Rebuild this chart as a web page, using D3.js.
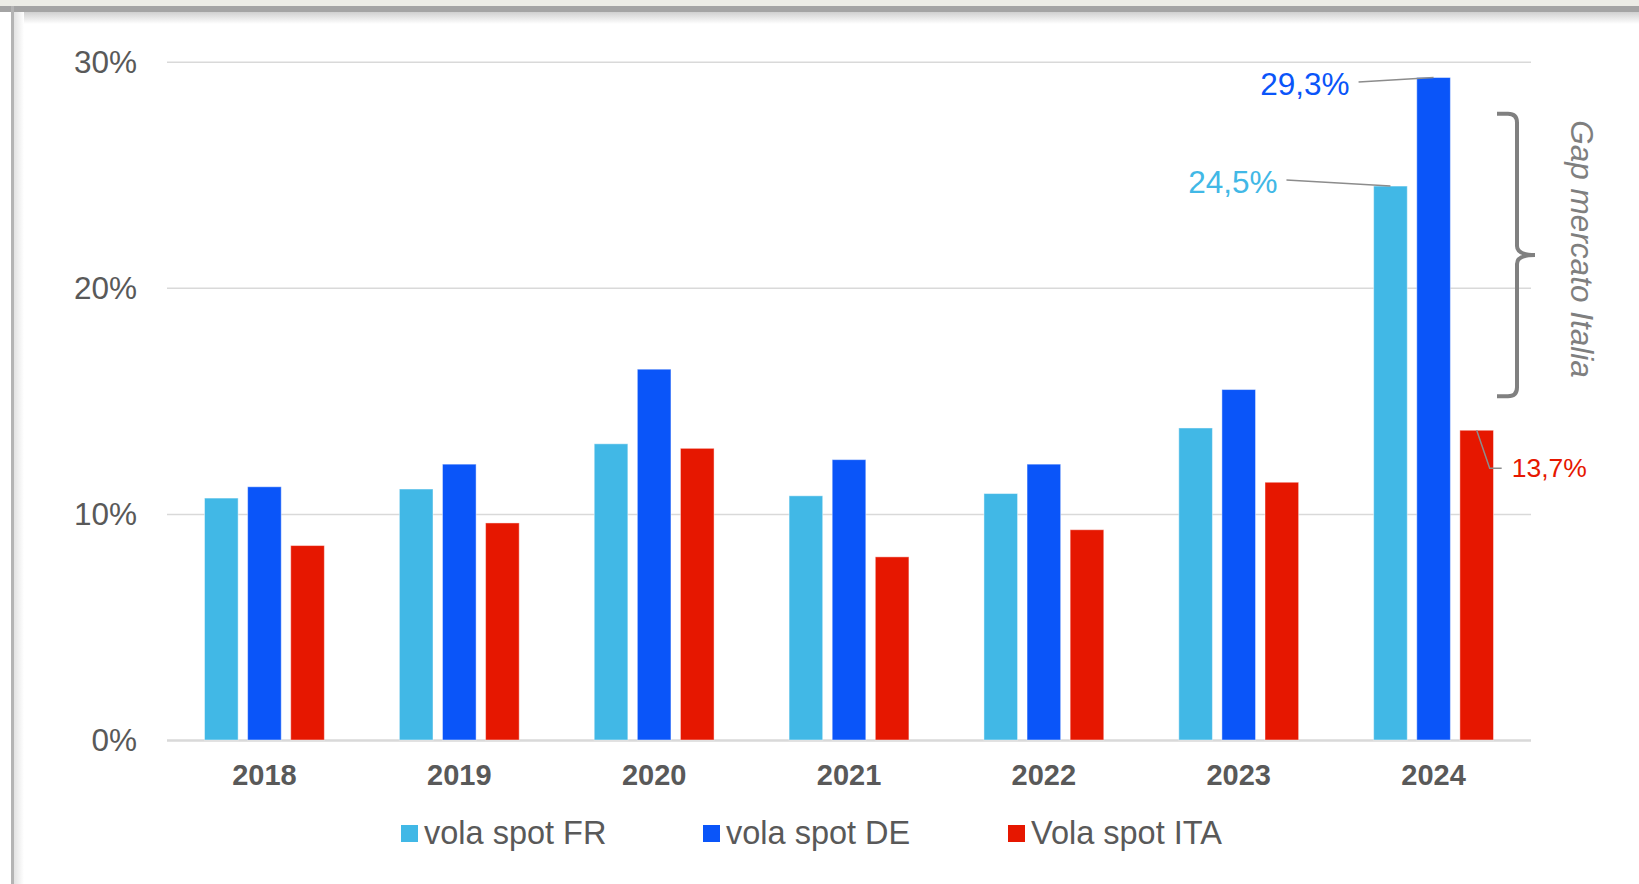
<!DOCTYPE html>
<html>
<head>
<meta charset="utf-8">
<script src="https://cdn.jsdelivr.net/npm/d3@7"></script>
<style>
  html, body { margin: 0; padding: 0; background: #fff; }
  svg { display: block; font-family: "Liberation Sans", Arial, sans-serif; }
</style>
</head>
<body>
<svg id="chart" width="1639" height="884"></svg>
<script>
var years = [ "2018", "2019", "2020", "2021", "2022", "2023", "2024" ];
var volaFR = [ 10.7, 11.1, 13.1, 10.8, 10.9, 13.8, 24.5 ];
var volaDE = [ 11.2, 12.2, 16.4, 12.4, 12.2, 15.5, 29.3 ];
var volaITA = [ 8.6, 9.6, 12.9, 8.1, 9.3, 11.4, 13.7 ];
var seriesNames = [ "vola spot FR", "vola spot DE", "Vola spot ITA" ];
var seriesColors = [ "#41b8e6", "#0a55f9", "#e61700" ];
var yTicks = [ 0, 10, 20, 30 ];
var gapRange = [ 15.2, 27.7 ];
var gapLabel = "Gap mercato Italia";

var svg = d3.select( "#chart" ),
    W = 1639, H = 884,
    pLeft = 167, pRight = 1531, pTop = 61.7, pBottom = 740,
    series = [ volaFR, volaDE, volaITA ];

var x0 = d3.scaleBand().domain( years ).range( [ pLeft, pRight ] ).paddingInner( 0.385 ).paddingOuter( 0.1925 );
var x1 = d3.scaleBand().domain( [ 0, 1, 2 ] ).range( [ 0, x0.bandwidth() ] ).paddingInner( 0.22 );
var y = d3.scaleLinear().domain( [ 0, 30 ] ).range( [ pBottom, pTop ] );

function fmt( v ) {
    return d3.format( ".1f" )( v ).replace( ".", "," ) + "%";
}

function drawFrame() {
    var defs = svg.append( "defs" );
    var g1 = defs.append( "linearGradient" ).attr( "id", "shTop" ).attr( "x1", 0 ).attr( "y1", 0 ).attr( "x2", 0 ).attr( "y2", 1 );
    g1.append( "stop" ).attr( "offset", 0 ).attr( "stop-color", "#d0d0d0" );
    g1.append( "stop" ).attr( "offset", 1 ).attr( "stop-color", "#ffffff" );
    var g2 = defs.append( "linearGradient" ).attr( "id", "shLeft" ).attr( "x1", 0 ).attr( "y1", 0 ).attr( "x2", 1 ).attr( "y2", 0 );
    g2.append( "stop" ).attr( "offset", 0 ).attr( "stop-color", "#e2e2e2" );
    g2.append( "stop" ).attr( "offset", 1 ).attr( "stop-color", "#ffffff" );

    svg.append( "rect" ).attr( "x", 0 ).attr( "y", 0 ).attr( "width", W ).attr( "height", H ).attr( "fill", "#fff" );
    svg.append( "rect" ).attr( "x", 0 ).attr( "y", 0 ).attr( "width", W ).attr( "height", 6 ).attr( "fill", "#ecece6" );
    svg.append( "rect" ).attr( "x", 14 ).attr( "y", 12 ).attr( "width", W ).attr( "height", 12 ).attr( "fill", "url(#shTop)" );
    svg.append( "rect" ).attr( "x", 14 ).attr( "y", 12 ).attr( "width", 10 ).attr( "height", H ).attr( "fill", "url(#shLeft)" );
    svg.append( "rect" ).attr( "x", 0 ).attr( "y", 6 ).attr( "width", W ).attr( "height", 6 ).attr( "fill", "#a4a4a4" );
    svg.append( "rect" ).attr( "x", 11 ).attr( "y", 6 ).attr( "width", 3 ).attr( "height", H ).attr( "fill", "#b4b4b4" );
}

function drawAxes() {
    var yAxis = svg.append( "g" )
        .attr( "transform", "translate(" + pLeft + ",0)" )
        .call( d3.axisLeft( y ).tickValues( yTicks ).tickSize( -( pRight - pLeft ) ).tickPadding( 30 ).tickFormat( function( d ) { return d + "%"; } ) );

    yAxis.select( ".domain" ).remove();
    yAxis.selectAll( "line" ).attr( "stroke", "#d9d9d9" ).attr( "stroke-width", function( d ) { return d === 0 ? 2.5 : 1.5; } );
    yAxis.selectAll( "text" ).attr( "fill", "#595959" ).style( "font-size", "31.5px" ).attr( "dy", "0.33em" );

    var xAxis = svg.append( "g" )
        .attr( "transform", "translate(0," + pBottom + ")" )
        .call( d3.axisBottom( x0 ).tickSize( 0 ).tickPadding( 0 ) );

    xAxis.select( ".domain" ).remove();
    xAxis.selectAll( "text" ).attr( "fill", "#595959" ).attr( "y", 45 ).attr( "dy", 0 )
        .style( "font-size", "29px" ).style( "font-weight", "bold" );
}

function drawBars() {
    var groups = svg.append( "g" ).selectAll( "g" )
        .data( years )
        .enter().append( "g" )
        .attr( "transform", function( d ) { return "translate(" + x0( d ) + ",0)"; } );

    groups.selectAll( "rect" )
        .data( function( d, i ) { return series.map( function( s, k ) { return { k: k, v: s[ i ] }; } ); } )
        .enter().append( "rect" )
        .attr( "x", function( d ) { return x1( d.k ); } )
        .attr( "width", x1.bandwidth() )
        .attr( "y", function( d ) { return y( d.v ); } )
        .attr( "height", function( d ) { return pBottom - y( d.v ); } )
        .attr( "fill", function( d ) { return seriesColors[ d.k ]; } )
        .attr( "stroke", "rgba(255,255,255,0.45)" )
        .attr( "stroke-width", 1 );
}

function drawLabels() {
    var last = years.length - 1, yr = years[ last ];

    function barCx( k ) { return x0( yr ) + x1( k ) + x1.bandwidth() / 2; }

    // FR and DE: label on the left with a leader line to the bar top
    [ 1, 0 ].forEach( function( k ) {
        var v = series[ k ][ last ], bx = barCx( k ), by = y( v ),
            tx = k === 1 ? bx - 84 : bx - 113, ty = k === 1 ? by + 17 : by + 6.5;

        svg.append( "path" )
            .attr( "d", "M" + ( tx + 9 ) + "," + ( ty - 12.5 ) + "L" + bx + "," + by )
            .attr( "stroke", "#8c8c8c" ).attr( "stroke-width", 1.5 ).attr( "fill", "none" );

        svg.append( "text" )
            .attr( "x", tx ).attr( "y", ty )
            .attr( "text-anchor", "end" )
            .attr( "fill", seriesColors[ k ] )
            .style( "font-size", "31.5px" )
            .text( fmt( v ) );
    });

    // ITA: label on the right
    var vI = volaITA[ last ], bxI = barCx( 2 ), byI = y( vI );

    svg.append( "path" )
        .attr( "d", "M" + bxI + "," + byI + "L" + ( bxI + 13 ) + "," + ( byI + 38 ) + "L" + ( bxI + 25 ) + "," + ( byI + 38 ) )
        .attr( "stroke", "#8c8c8c" ).attr( "stroke-width", 1.5 ).attr( "fill", "none" );

    svg.append( "text" )
        .attr( "x", bxI + 35 ).attr( "y", byI + 47 )
        .attr( "fill", seriesColors[ 2 ] )
        .style( "font-size", "26.5px" )
        .text( fmt( vI ) );
}

function drawGap() {
    var yt = y( gapRange[ 1 ] ), yb = y( gapRange[ 0 ] ), ym = ( yt + yb ) / 2,
        tip = pRight - 34, spine = pRight - 14, point = pRight + 4, r = 9;

    var d = "M" + tip + "," + yt +
        "L" + ( spine - r ) + "," + yt +
        "Q" + spine + "," + yt + " " + spine + "," + ( yt + r ) +
        "L" + spine + "," + ( ym - r ) +
        "Q" + spine + "," + ym + " " + point + "," + ym +
        "Q" + spine + "," + ym + " " + spine + "," + ( ym + r ) +
        "L" + spine + "," + ( yb - r ) +
        "Q" + spine + "," + yb + " " + ( spine - r ) + "," + yb +
        "L" + tip + "," + yb;

    svg.append( "path" )
        .attr( "d", d )
        .attr( "fill", "none" )
        .attr( "stroke", "#808080" )
        .attr( "stroke-width", 4 );

    svg.append( "text" )
        .attr( "transform", "translate(" + ( pRight + 40 ) + "," + ( ym - 6 ) + ") rotate(90)" )
        .attr( "text-anchor", "middle" )
        .attr( "fill", "#7f7f7f" )
        .style( "font-size", "31.5px" )
        .style( "font-style", "italic" )
        .text( gapLabel );
}

function drawLegend() {
    var lx = [ 401, 703, 1008 ];
    var legend = svg.append( "g" ).selectAll( "g" )
        .data( seriesNames )
        .enter().append( "g" )
        .attr( "transform", function( d, i ) { return "translate(" + lx[ i ] + ",825)"; } );

    legend.append( "rect" )
        .attr( "width", 17 ).attr( "height", 17 )
        .attr( "fill", function( d, i ) { return seriesColors[ i ]; } );

    legend.append( "text" )
        .attr( "x", 23 ).attr( "y", 18.5 )
        .attr( "fill", "#595959" )
        .style( "font-size", "32.5px" )
        .text( function( d ) { return d; } );
}

drawFrame();
drawAxes();
drawBars();
drawLabels();
drawGap();
drawLegend();
</script>
</body>
</html>
